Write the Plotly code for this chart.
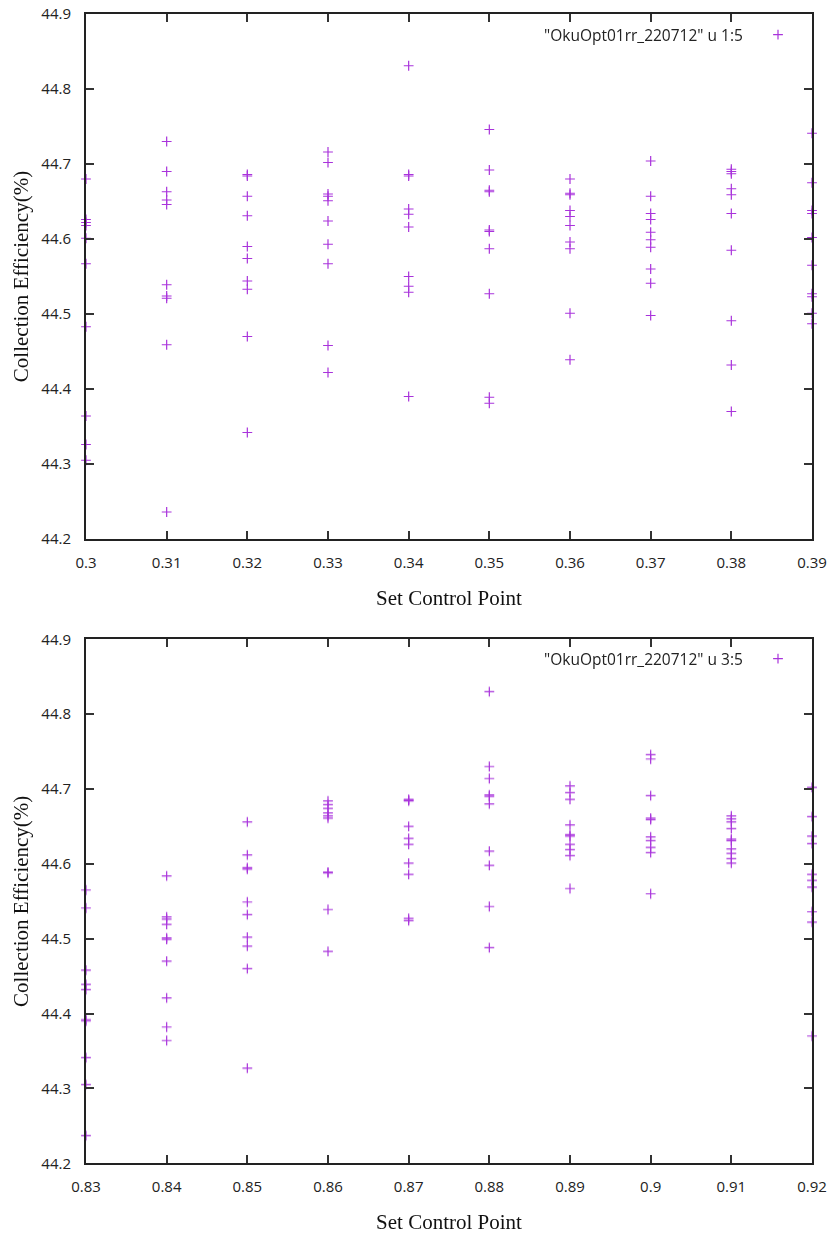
import plotly.graph_objects as go

# ---------------- data ----------------
top_levels = [0.30, 0.31, 0.32, 0.33, 0.34, 0.35, 0.36, 0.37, 0.38, 0.39]
top_eff = [
    [44.680, 44.626, 44.622, 44.618, 44.601, 44.567, 44.483, 44.364, 44.326, 44.305],
    [44.730, 44.690, 44.663, 44.652, 44.646, 44.539, 44.524, 44.521, 44.459, 44.236],
    [44.686, 44.684, 44.657, 44.631, 44.590, 44.574, 44.544, 44.533, 44.470, 44.342],
    [44.716, 44.702, 44.660, 44.657, 44.651, 44.624, 44.593, 44.567, 44.458, 44.422],
    [44.831, 44.686, 44.684, 44.640, 44.633, 44.616, 44.550, 44.537, 44.529, 44.390],
    [44.746, 44.692, 44.665, 44.663, 44.612, 44.610, 44.587, 44.527, 44.389, 44.381],
    [44.680, 44.661, 44.659, 44.638, 44.630, 44.618, 44.596, 44.587, 44.501, 44.439],
    [44.704, 44.657, 44.634, 44.626, 44.609, 44.599, 44.589, 44.560, 44.541, 44.498],
    [44.693, 44.690, 44.687, 44.667, 44.659, 44.634, 44.585, 44.491, 44.432, 44.370],
    [44.741, 44.675, 44.638, 44.634, 44.602, 44.565, 44.527, 44.523, 44.501, 44.487],
]

bottom_levels = [0.83, 0.84, 0.85, 0.86, 0.87, 0.88, 0.89, 0.90, 0.91, 0.92]
bottom_eff = [
    [44.565, 44.541, 44.458, 44.439, 44.432, 44.392, 44.390, 44.341, 44.305, 44.237],
    [44.584, 44.529, 44.526, 44.519, 44.501, 44.499, 44.470, 44.421, 44.382, 44.364],
    [44.656, 44.612, 44.595, 44.593, 44.549, 44.532, 44.502, 44.490, 44.460, 44.327],
    [44.684, 44.679, 44.674, 44.668, 44.664, 44.661, 44.589, 44.588, 44.539, 44.483],
    [44.686, 44.685, 44.684, 44.650, 44.634, 44.626, 44.601, 44.586, 44.527, 44.524],
    [44.830, 44.730, 44.714, 44.692, 44.690, 44.680, 44.617, 44.598, 44.543, 44.488],
    [44.704, 44.695, 44.686, 44.652, 44.639, 44.637, 44.626, 44.619, 44.611, 44.567],
    [44.746, 44.740, 44.691, 44.661, 44.659, 44.636, 44.631, 44.622, 44.615, 44.560],
    [44.664, 44.660, 44.656, 44.647, 44.633, 44.631, 44.620, 44.614, 44.607, 44.601],
    [44.702, 44.663, 44.637, 44.627, 44.586, 44.578, 44.569, 44.536, 44.522, 44.370],
]

top_xticks = [0.30, 0.31, 0.32, 0.33, 0.34, 0.35, 0.36, 0.37, 0.38, 0.39]
top_xticklabels = ["0.3", "0.31", "0.32", "0.33", "0.34", "0.35", "0.36", "0.37", "0.38", "0.39"]
bottom_xticks = [0.83, 0.84, 0.85, 0.86, 0.87, 0.88, 0.89, 0.90, 0.91, 0.92]
bottom_xticklabels = ["0.83", "0.84", "0.85", "0.86", "0.87", "0.88", "0.89", "0.9", "0.91", "0.92"]
yticks = [44.2, 44.3, 44.4, 44.5, 44.6, 44.7, 44.8, 44.9]
yticklabels = ["44.2", "44.3", "44.4", "44.5", "44.6", "44.7", "44.8", "44.9"]

top_label = '"OkuOpt01rr_220712" u 1:5'
bottom_label = '"OkuOpt01rr_220712" u 3:5'
x_title = "Set Control Point"
y_title = "Collection Efficiency(%)"

# ---------------- figure ----------------
W, H = 833, 1235
COLOR = "#9400D3"

def flat(levels, effs):
    xs, ys = [], []
    for lv, vals in zip(levels, effs):
        for v in vals:
            xs.append(lv)
            ys.append(v)
    return xs, ys

tx, ty = flat(top_levels, top_eff)
bx, by = flat(bottom_levels, bottom_eff)

marker = dict(symbol="cross-thin", size=7, color=COLOR,
              line=dict(color=COLOR, width=1.2))

fig = go.Figure()
fig.add_trace(go.Scatter(x=tx, y=ty, mode="markers", marker=marker, name=" ",
                         xaxis="x", yaxis="y", cliponaxis=False, legend="legend",
                         opacity=0.8))
fig.add_trace(go.Scatter(x=bx, y=by, mode="markers", marker=marker, name=" ",
                         xaxis="x2", yaxis="y2", cliponaxis=False, legend="legend2",
                         opacity=0.8))

left, right = 86 / W, 812 / W
top_dom = [1 - 539 / H, 1 - 14 / H]
bot_dom = [1 - 1163.3 / H, 1 - 639.3 / H]

tickfont = dict(family="Open Sans, Noto Sans, sans-serif", size=15, color="#222")
titlefont = dict(family="Liberation Serif, serif", size=21, color="#111")
legfont = dict(family="Open Sans, sans-serif", size=15.5, color="#222")

def xaxis(dom_y_anchor, ticks, labels, rng):
    return dict(domain=[left, right], anchor=dom_y_anchor, range=rng,
                tickmode="array", tickvals=ticks, ticktext=labels,
                ticks="inside", ticklen=8, tickwidth=1.5, tickcolor="#333",
                showline=True, linecolor="#222", linewidth=2, mirror="ticks",
                showgrid=False, zeroline=False, tickfont=tickfont,
                ticklabelstandoff=9, automargin=False,
                title=dict(text=x_title, font=titlefont, standoff=19))

def yaxis(dom, anchor):
    return dict(domain=dom, anchor=anchor, range=[44.2, 44.9],
                tickmode="array", tickvals=yticks, ticktext=yticklabels,
                ticks="inside", ticklen=8, tickwidth=1.5, tickcolor="#333",
                showline=True, linecolor="#222", linewidth=2, mirror="ticks",
                showgrid=False, zeroline=False, tickfont=tickfont,
                ticklabelstandoff=10, automargin=False,
                title=dict(text=y_title, font=titlefont, standoff=7))

legend_common = dict(bgcolor="rgba(0,0,0,0)", borderwidth=0, font=legfont,
                     xanchor="left", yanchor="middle", itemwidth=30,
                     tracegroupgap=0)

fig.update_layout(
    width=W, height=H,
    margin=dict(l=0, r=0, t=0, b=0, autoexpand=False),
    paper_bgcolor="white", plot_bgcolor="white",
    showlegend=True,
    xaxis=xaxis("y", top_xticks, top_xticklabels, [0.30, 0.39]),
    yaxis=yaxis(top_dom, "x"),
    xaxis2=xaxis("y2", bottom_xticks, bottom_xticklabels, [0.83, 0.92]),
    yaxis2=yaxis(bot_dom, "x2"),
    legend=dict(x=758 / W, y=1 - 35 / H, **legend_common),
    legend2=dict(x=758 / W, y=1 - 659 / H, **legend_common),
    annotations=[
        dict(text=top_label, x=745 / W, y=1 - 35 / H, xref="paper", yref="paper",
             xanchor="right", yanchor="middle", showarrow=False, font=legfont),
        dict(text=bottom_label, x=745 / W, y=1 - 659 / H, xref="paper", yref="paper",
             xanchor="right", yanchor="middle", showarrow=False, font=legfont),
    ],
)

fig.write_html("out.html")
